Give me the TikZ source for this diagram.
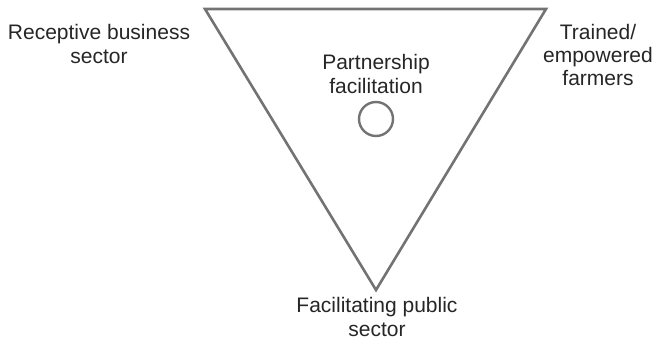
\documentclass[tikz,border=0pt]{standalone}
\usepackage{fontspec}
\setmainfont{Liberation Sans}
\begin{document}
\begin{tikzpicture}[x=1pt,y=1pt,
  lbl/.style={align=center,text=black!85,font=\fontsize{21}{23.3}\selectfont,inner sep=0pt},
  edge/.style={draw=black!55,line width=2.6pt}]
\useasboundingbox (0,0) rectangle (655,342);
\coordinate (tl) at (205,333);
\coordinate (tr) at (546,333);
\coordinate (bt) at (376,52);
\draw[edge,line join=miter] (tl) -- (tr) -- (bt) -- cycle;
\node[draw=black!55,line width=2.4pt,circle,minimum size=34pt,inner sep=0pt] (c) at (376,223) {};
\node[lbl] (pf) at (376,268) {Partnership\\facilitation};
\node[lbl] (rb) at (99,298) {Receptive business\\sector};
\node[lbl] (tf) at (598,287) {Trained/\\empowered\\farmers};
\node[lbl] (fp) at (377,25) {Facilitating public\\sector};
\end{tikzpicture}
\end{document}
